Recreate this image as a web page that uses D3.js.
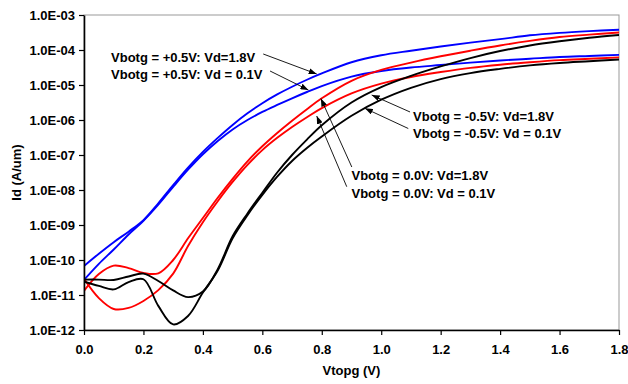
<!DOCTYPE html>
<html>
<head>
<meta charset="utf-8">
<script src="https://d3js.org/d3.v7.min.js"></script>
<style>
    body { margin: 0; background: #fff; }
    svg text { font-family: "Liberation Sans", Arial, sans-serif; font-weight: bold; fill: #000; }
</style>
</head>
<body>
<div id="chart"></div>
<script>
// Vtopg sweep (V)
const vtopg = [0, 0.05, 0.1, 0.15, 0.2, 0.25, 0.3, 0.35, 0.4, 0.45, 0.5, 0.55, 0.6, 0.65, 0.7, 0.75, 0.8,
    0.9, 1.0, 1.1, 1.2, 1.3, 1.4, 1.5, 1.6, 1.7, 1.8];

// log10(Id) in A/um
const logIdPos05Vd18 = [-10.17, -9.82, -9.49, -9.19, -8.86, -8.38, -7.86, -7.36, -6.91, -6.51, -6.14, -5.81, -5.52, -5.27, -5.05, -4.85, -4.67,
    -4.35, -4.15, -4.02, -3.9, -3.79, -3.69, -3.58, -3.51, -3.46, -3.42];
const logIdPos05Vd01 = [-10.57, -10.11, -9.7, -9.27, -8.88, -8.42, -7.91, -7.42, -6.98, -6.6, -6.27, -6.0, -5.77, -5.57, -5.38, -5.2, -5.03,
    -4.76, -4.6, -4.5, -4.43, -4.36, -4.3, -4.25, -4.2, -4.17, -4.14];
const logIdZeroVd18 = [-10.88, -10.4, -10.16, -10.23, -10.37, -10.38, -10.0, -9.38, -8.8, -8.22, -7.68, -7.18, -6.75, -6.37, -6.02, -5.69, -5.38,
    -4.88, -4.57, -4.36, -4.18, -4.02, -3.87, -3.74, -3.63, -3.56, -3.5];
const logIdZeroVd01 = [-10.54, -11.09, -11.4, -11.37, -11.17, -10.86, -10.39, -9.6, -8.92, -8.32, -7.77, -7.28, -6.86, -6.51, -6.2, -5.92, -5.66,
    -5.24, -4.96, -4.77, -4.63, -4.51, -4.42, -4.35, -4.29, -4.25, -4.21];
const logIdNeg05Vd18 = [-10.56, -10.56, -10.57, -10.47, -10.39, -10.6, -10.87, -11.06, -10.9, -10.26, -9.32, -8.67, -8.08, -7.5, -7.0, -6.56, -6.15,
    -5.5, -5.06, -4.74, -4.47, -4.23, -4.03, -3.87, -3.75, -3.65, -3.57];
const logIdNeg05Vd01 = [-10.62, -10.74, -10.84, -10.63, -10.55, -11.31, -11.84, -11.6, -10.93, -10.3, -9.38, -8.72, -8.14, -7.62, -7.17, -6.8, -6.47,
    -5.88, -5.42, -5.08, -4.83, -4.66, -4.54, -4.44, -4.37, -4.32, -4.27];

// axis ticks
const xTicks = [0, 0.2, 0.4, 0.6, 0.8, 1.0, 1.2, 1.4, 1.6, 1.8];
const yTickExps = [-12, -11, -10, -9, -8, -7, -6, -5, -4, -3];

// annotation texts, anchored in data units [V, log10(Id)]
const labelTexts = [
    "Vbotg = +0.5V: Vd=1.8V", "Vbotg = +0.5V: Vd = 0.1V",
    "Vbotg = -0.5V: Vd=1.8V", "Vbotg = -0.5V: Vd = 0.1V",
    "Vbotg = 0.0V: Vd=1.8V", "Vbotg = 0.0V: Vd = 0.1V"
];
const labelV = [0.091, 0.091, 1.107, 1.107, 0.9, 0.9];
const labelLogId = [-4.2, -4.686, -5.886, -6.371, -7.571, -8.086];
// arrows: from [V, logId] to [V, logId]
const arrowFromV = [0.603, 0.626, 1.097, 1.091, 0.901, 0.884];
const arrowFromLogId = [-4.114, -4.6, -5.771, -6.243, -7.343, -7.906];
const arrowToV = [0.783, 0.755, 0.968, 0.945, 0.797, 0.783];
const arrowToLogId = [-4.686, -5.143, -5.286, -5.666, -5.386, -5.886];

const series = [
    { name: "+0.5V Vd=1.8", color: "#0000ff", values: logIdPos05Vd18 },
    { name: "+0.5V Vd=0.1", color: "#0000ff", values: logIdPos05Vd01 },
    { name: "0.0V Vd=1.8", color: "#ff0000", values: logIdZeroVd18 },
    { name: "0.0V Vd=0.1", color: "#ff0000", values: logIdZeroVd01 },
    { name: "-0.5V Vd=1.8", color: "#000000", values: logIdNeg05Vd18 },
    { name: "-0.5V Vd=0.1", color: "#000000", values: logIdNeg05Vd01 }
];

const totalWidth = 628, totalHeight = 384;
const margin = { top: 15, right: 9, bottom: 54, left: 84 },
    width = totalWidth - margin.left - margin.right,
    height = totalHeight - margin.top - margin.bottom;

const svgRoot = d3.select("#chart").append("svg")
    .attr("width", totalWidth)
    .attr("height", totalHeight);

const svg = svgRoot.append("g")
    .attr("transform", `translate(${margin.left}, ${margin.top})`);

const x = d3.scaleLinear().domain([0, 1.8]).range([0, width]);
const y = d3.scaleLog().domain([1e-12, 1e-3]).range([height, 0]);

// gray frame (top and right)
svg.append("rect")
    .attr("x", 0).attr("y", 0)
    .attr("width", width).attr("height", height)
    .attr("fill", "none")
    .attr("stroke", "#999")
    .attr("stroke-width", 1);

const defs = svg.append("defs");
defs.append("clipPath").attr("id", "plot-clip")
    .append("rect").attr("width", width).attr("height", height);

defs.append("marker")
    .attr("id", "arrow")
    .attr("markerUnits", "userSpaceOnUse")
    .attr("markerWidth", 8).attr("markerHeight", 6)
    .attr("refX", 8).attr("refY", 3)
    .attr("orient", "auto")
    .append("path")
    .attr("d", "M0,0 L8,3 L0,6 Z")
    .attr("fill", "#000");

// curves
const line = d3.line()
    .x((d, i) => x(vtopg[i]))
    .y(d => y(Math.pow(10, d)))
    .curve(d3.curveCatmullRom.alpha(0.5));

svg.append("g").attr("clip-path", "url(#plot-clip)")
    .selectAll("path")
    .data(series)
    .join("path")
    .attr("d", d => line(d.values))
    .attr("fill", "none")
    .attr("stroke", d => d.color)
    .attr("stroke-width", 1.9);

// Eje Y
const yFmt = d => {
    const e = Math.round(Math.log10(d));
    return "1.0E" + (e < 0 ? "-" : "+") + String(Math.abs(e)).padStart(2, "0");
};
const yAxis = svg.append("g")
    .call(d3.axisLeft(y)
        .tickValues(yTickExps.map(e => Math.pow(10, e)))
        .tickFormat(yFmt)
        .tickSize(5)
        .tickSizeOuter(0)
        .tickPadding(4));

// Eje X
const xAxis = svg.append("g")
    .attr("transform", `translate(0, ${height})`)
    .call(d3.axisBottom(x)
        .tickValues(xTicks)
        .tickFormat(d3.format(".1f"))
        .tickSize(5)
        .tickSizeOuter(0)
        .tickPadding(10));

[yAxis, xAxis].forEach(ax => {
    ax.select(".domain").attr("stroke", "#000").attr("stroke-width", 1.6);
    ax.selectAll(".tick line").attr("stroke", "#000").attr("stroke-width", 1.2);
    ax.selectAll(".tick text")
        .attr("font-family", "Liberation Sans, Arial, sans-serif")
        .attr("font-weight", "bold")
        .attr("font-size", 13)
        .attr("fill", "#000");
});

// axis titles
svg.append("text")
    .attr("x", width / 2)
    .attr("y", height + 45)
    .attr("text-anchor", "middle")
    .attr("font-size", 13)
    .text("Vtopg (V)");

svg.append("text")
    .attr("transform", `translate(${-margin.left + 16}, ${height / 2}) rotate(-90)`)
    .attr("text-anchor", "middle")
    .attr("dy", "0.35em")
    .attr("font-size", 13)
    .text("Id (A/um)");

// arrows
svg.append("g")
    .selectAll("line")
    .data(arrowFromV.map((v, i) => i))
    .join("line")
    .attr("x1", i => x(arrowFromV[i]))
    .attr("y1", i => y(Math.pow(10, arrowFromLogId[i])))
    .attr("x2", i => x(arrowToV[i]))
    .attr("y2", i => y(Math.pow(10, arrowToLogId[i])))
    .attr("stroke", "#000")
    .attr("stroke-width", 0.9)
    .attr("marker-end", "url(#arrow)");

// labels
svg.append("g")
    .selectAll("text")
    .data(labelTexts)
    .join("text")
    .attr("x", (d, i) => x(labelV[i]))
    .attr("y", (d, i) => y(Math.pow(10, labelLogId[i])))
    .attr("dy", "0.35em")
    .attr("font-size", 13)
    .text(d => d);
</script>
</body>
</html>
